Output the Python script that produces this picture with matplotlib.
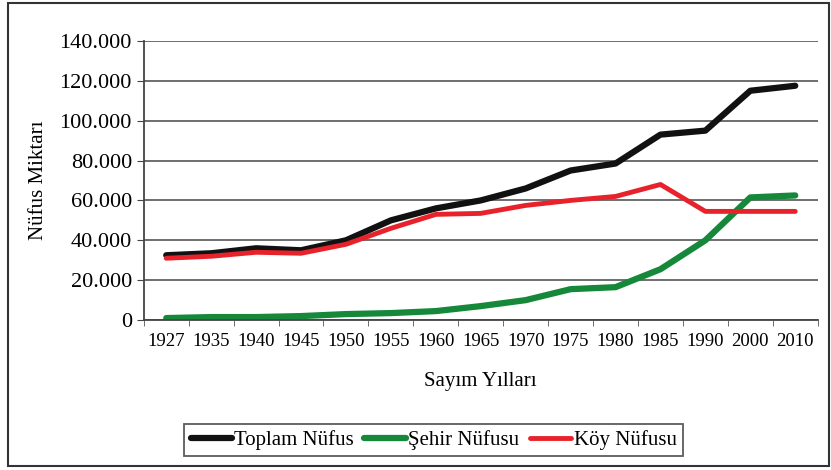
import matplotlib.pyplot as plt
from matplotlib.ticker import FuncFormatter, MultipleLocator
import numpy as np

# census years and population values
years = ["1927", "1935", "1940", "1945", "1950", "1955", "1960", "1965",
         "1970", "1975", "1980", "1985", "1990", "2000", "2010"]
toplam = [32500, 33500, 36000, 35000, 40000, 50000, 56000, 60000,
          66000, 75000, 78500, 93000, 95000, 115000, 117500]
sehir = [1000, 1500, 1500, 2000, 3000, 3500, 4500, 7000,
         10000, 15500, 16500, 25500, 40000, 61500, 62500]
koy = [31000, 32000, 34000, 33500, 38000, 46000, 53000, 53500,
       57500, 60000, 62000, 68000, 54500, 54500, 54500]

plt.rcParams['font.family'] = ['Liberation Serif', 'DejaVu Serif']

fig = plt.figure(figsize=(8.31, 4.70), dpi=100)
ax = fig.add_axes([0.173, 0.319, 0.811, 0.594])

x = np.arange(len(years))
ax.plot(x, toplam, color="#111111", lw=4.5, label="Toplam Nüfus", solid_capstyle="round")
ax.plot(x, sehir, color="#15883a", lw=4.5, label="Şehir Nüfusu", solid_capstyle="round")
ax.plot(x, koy, color="#e8222b", lw=3.5, label="Köy Nüfusu", solid_capstyle="round")

ax.set_xlim(-0.5, len(years) - 0.5)
ax.set_ylim(0, 140000)
ax.yaxis.set_major_locator(MultipleLocator(20000))
ax.yaxis.set_major_formatter(FuncFormatter(lambda v, p: "0" if v == 0 else f"{int(v):,}".replace(",", ".")))
ax.set_xticks(x)
ax.set_xticklabels(years)
ax.set_xticks(np.arange(-0.5, len(years), 1), minor=True)
ax.tick_params(axis="x", which="major", length=0, labelsize=13.5, pad=9)
ax.tick_params(axis="x", which="minor", length=4, color="#555555")
ax.tick_params(axis="y", labelsize=16, length=5, color="#444444")
ax.grid(axis="y", color="#555555", lw=1.2)
ax.set_axisbelow(True)
for s in ["top", "right"]:
    ax.spines[s].set_visible(False)
ax.spines["left"].set_color("#444444")
ax.spines["bottom"].set_color("#444444")
ax.spines["left"].set_linewidth(1.3)
ax.spines["bottom"].set_linewidth(1.3)

ax.set_ylabel("Nüfus Miktarı", fontsize=15, labelpad=8)
ax.set_xlabel("Sayım Yılları", fontsize=15, labelpad=16)

leg = ax.legend(loc="upper center", bbox_to_anchor=(0.43, -0.335), ncol=3,
                fontsize=15, frameon=True, fancybox=False, edgecolor="#333333",
                handlelength=2.0, handletextpad=0.1, columnspacing=0.5,
                borderpad=0.3)
leg.get_frame().set_linewidth(1.3)

# outer frame around the figure
fig.patches.append(plt.Rectangle((0.01, 0.008), 0.988, 0.985, transform=fig.transFigure,
                                 fill=False, edgecolor="#333333", lw=1.5))

fig.savefig("out.png", dpi=100)
